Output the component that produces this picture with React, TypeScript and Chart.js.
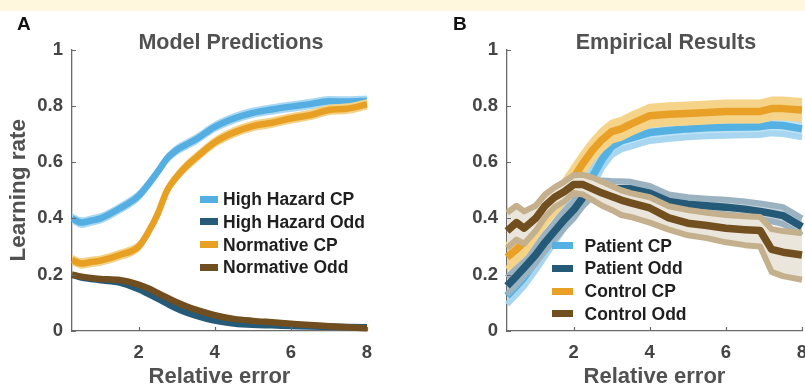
import React, { useEffect, useRef } from 'react';
import { Chart, registerables } from 'chart.js';

Chart.register(...registerables);

const FONT = '"Liberation Sans", Arial, Helvetica, sans-serif';
const AXIS = '#6a6a6a';
const TICK_TXT = '#444444';
const TITLE_TXT = '#515151';

// ---------- shared axis data ----------
const X_MIN = 0.25;
const X_MAX = 8;
const xTickValues = [2, 4, 6, 8];
const yTickStep = 0.2;

// ---------- Panel A: Model Predictions ----------
const xA = [0.25, 0.5, 0.75, 1, 1.5, 2, 2.25, 2.5, 2.75, 3, 3.25, 3.5, 4, 4.5, 5, 5.5, 6, 6.5, 7, 7.5, 8];
const highHazardCP = [0.40, 0.385, 0.392, 0.40, 0.435, 0.48, 0.52, 0.565, 0.613, 0.643, 0.662, 0.68, 0.725, 0.755, 0.775, 0.787, 0.797, 0.806, 0.816, 0.815, 0.818];
const highHazardOdd = [0.20, 0.19, 0.185, 0.18, 0.172, 0.148, 0.132, 0.115, 0.097, 0.08, 0.066, 0.055, 0.037, 0.027, 0.022, 0.02, 0.018, 0.016, 0.015, 0.014, 0.013];
const normativeCP = [0.252, 0.24, 0.245, 0.25, 0.27, 0.30, 0.35, 0.415, 0.50, 0.548, 0.585, 0.615, 0.67, 0.705, 0.728, 0.74, 0.755, 0.767, 0.785, 0.79, 0.805];
const normativeOdd = [0.20, 0.193, 0.188, 0.185, 0.181, 0.165, 0.152, 0.135, 0.118, 0.102, 0.088, 0.076, 0.056, 0.043, 0.036, 0.031, 0.026, 0.021, 0.017, 0.013, 0.01];
const cpErrA = 0.016;
const oddErrA = 0.006;

// ---------- Panel B: Empirical Results ----------
const xB = [0.25, 0.5, 0.7, 1.0, 1.25, 1.5, 1.75, 2.0, 2.25, 2.5, 2.75, 3.0, 3.25, 3.5, 4.0, 4.5, 5.0, 5.5, 6.0, 6.5, 6.9, 7.2, 7.5, 8.0];
const patientCP = [0.125, 0.16, 0.19, 0.25, 0.30, 0.35, 0.40, 0.45, 0.50, 0.55, 0.61, 0.655, 0.675, 0.685, 0.705, 0.712, 0.718, 0.722, 0.724, 0.725, 0.726, 0.732, 0.73, 0.718];
const patientCPHi = [0.16, 0.195, 0.225, 0.285, 0.335, 0.385, 0.435, 0.485, 0.535, 0.585, 0.64, 0.685, 0.705, 0.715, 0.735, 0.742, 0.748, 0.752, 0.754, 0.755, 0.756, 0.762, 0.76, 0.75];
const patientCPLo = [0.095, 0.13, 0.16, 0.215, 0.265, 0.315, 0.365, 0.415, 0.465, 0.515, 0.58, 0.625, 0.645, 0.655, 0.675, 0.682, 0.688, 0.692, 0.694, 0.695, 0.696, 0.702, 0.70, 0.688];
const patientOdd = [0.16, 0.195, 0.225, 0.27, 0.315, 0.355, 0.395, 0.43, 0.475, 0.505, 0.51, 0.505, 0.505, 0.505, 0.49, 0.46, 0.45, 0.445, 0.44, 0.433, 0.425, 0.418, 0.41, 0.37];
const patientOddHi = [0.19, 0.225, 0.255, 0.30, 0.345, 0.385, 0.425, 0.46, 0.505, 0.532, 0.535, 0.533, 0.532, 0.53, 0.515, 0.485, 0.475, 0.47, 0.466, 0.46, 0.453, 0.447, 0.44, 0.40];
const patientOddLo = [0.13, 0.165, 0.195, 0.24, 0.285, 0.325, 0.365, 0.40, 0.445, 0.478, 0.485, 0.478, 0.478, 0.48, 0.465, 0.435, 0.425, 0.42, 0.414, 0.406, 0.397, 0.39, 0.38, 0.34];
const controlCP = [0.262, 0.29, 0.315, 0.37, 0.415, 0.455, 0.495, 0.545, 0.597, 0.643, 0.68, 0.708, 0.718, 0.735, 0.765, 0.77, 0.773, 0.776, 0.78, 0.78, 0.78, 0.79, 0.79, 0.785];
const controlCPHi = [0.305, 0.33, 0.355, 0.405, 0.45, 0.49, 0.53, 0.58, 0.63, 0.675, 0.712, 0.74, 0.75, 0.767, 0.797, 0.802, 0.805, 0.808, 0.812, 0.812, 0.812, 0.822, 0.822, 0.817];
const controlCPLo = [0.22, 0.25, 0.275, 0.335, 0.38, 0.42, 0.46, 0.51, 0.565, 0.611, 0.648, 0.676, 0.686, 0.703, 0.733, 0.738, 0.741, 0.744, 0.748, 0.748, 0.748, 0.758, 0.758, 0.753];
const controlOdd = [0.355, 0.385, 0.365, 0.40, 0.445, 0.475, 0.495, 0.52, 0.52, 0.505, 0.49, 0.478, 0.465, 0.455, 0.437, 0.402, 0.383, 0.375, 0.365, 0.36, 0.357, 0.29, 0.28, 0.27];
const controlOddHi = [0.42, 0.445, 0.425, 0.445, 0.485, 0.51, 0.53, 0.553, 0.555, 0.545, 0.53, 0.515, 0.50, 0.49, 0.475, 0.443, 0.43, 0.42, 0.412, 0.408, 0.405, 0.362, 0.355, 0.347];
const controlOddLo = [0.295, 0.325, 0.31, 0.355, 0.405, 0.44, 0.46, 0.49, 0.485, 0.465, 0.445, 0.43, 0.412, 0.405, 0.385, 0.36, 0.34, 0.33, 0.315, 0.305, 0.30, 0.21, 0.195, 0.182];

type Series = {
  label: string;
  mean: number[];
  lo: number[];
  hi: number[];
  line: string;
  edge: string;
  fill: string;
};

const band = (arr: number[], d: number) => arr.map((v) => v + d);

const seriesA: Series[] = [
  { label: 'High Hazard CP', mean: highHazardCP, lo: band(highHazardCP, -cpErrA), hi: band(highHazardCP, cpErrA), line: '#55AEE1', edge: '#A9D8F3', fill: '#A9D8F3' },
  { label: 'High Hazard Odd', mean: highHazardOdd, lo: band(highHazardOdd, -oddErrA), hi: band(highHazardOdd, oddErrA), line: '#255B79', edge: '#8FAABB', fill: '#8FAABB' },
  { label: 'Normative CP', mean: normativeCP, lo: band(normativeCP, -cpErrA), hi: band(normativeCP, cpErrA), line: '#E8A024', edge: '#F4D287', fill: '#F4D287' },
  { label: 'Normative Odd', mean: normativeOdd, lo: band(normativeOdd, -oddErrA), hi: band(normativeOdd, oddErrA), line: '#714E1F', edge: '#C8B48F', fill: '#C8B48F' },
];

const seriesB: Series[] = [
  { label: 'Patient CP', mean: patientCP, lo: patientCPLo, hi: patientCPHi, line: '#56B1E3', edge: '#A8D6F1', fill: '#BFE2F5' },
  { label: 'Patient Odd', mean: patientOdd, lo: patientOddLo, hi: patientOddHi, line: '#245A78', edge: '#9BB3C1', fill: '#C8D5DD' },
  { label: 'Control CP', mean: controlCP, lo: controlCPLo, hi: controlCPHi, line: '#E8A027', edge: '#F5D48A', fill: '#F5D48A' },
  { label: 'Control Odd', mean: controlOdd, lo: controlOddLo, hi: controlOddHi, line: '#724F1F', edge: '#C4B08C', fill: '#EBE6DB' },
];

// ---------- layout constants ----------
const CANVAS_H = 400;
const PLOT_TOP = 49.5;
const X_AXIS_H = 69;

function buildDatasets(xs: number[], series: Series[], meanW: number, edgeW: number, smooth: boolean) {
  const pts = (arr: number[]) => xs.map((x, i) => ({ x, y: arr[i] }));
  const common = (extra: any) => ({
    pointRadius: 0,
    pointHoverRadius: 0,
    borderJoinStyle: 'round',
    borderCapStyle: 'butt',
    tension: smooth ? 0.4 : 0,
    cubicInterpolationMode: smooth ? 'monotone' : 'default',
    clip: 12,
    ...extra,
  });
  const ds: any[] = [];
  series.forEach((s) => {
    ds.push(common({ data: pts(s.hi), borderColor: s.edge, backgroundColor: s.fill, borderWidth: edgeW, fill: '+1' }));
    ds.push(common({ data: pts(s.lo), borderColor: s.edge, borderWidth: edgeW, fill: false }));
    ds.push(common({ data: pts(s.mean), borderColor: s.line, borderWidth: meanW, fill: false }));
  });
  const n = ds.length;
  ds.forEach((d, i) => {
    d.order = n - i;
  });
  return ds;
}

const innerTicks = {
  id: 'innerTicks',
  afterDraw(chart: any) {
    const { ctx, chartArea, scales } = chart;
    ctx.save();
    ctx.strokeStyle = AXIS;
    ctx.lineWidth = 1.2;
    ctx.beginPath();
    scales.x.ticks.forEach((t: any) => {
      const px = Math.round(scales.x.getPixelForValue(t.value)) + 0.5;
      ctx.moveTo(px, chartArea.bottom);
      ctx.lineTo(px, chartArea.bottom - 4);
    });
    scales.y.ticks.forEach((t: any) => {
      const py = Math.round(scales.y.getPixelForValue(t.value)) + 0.5;
      ctx.moveTo(chartArea.left, py);
      ctx.lineTo(chartArea.left + 4, py);
    });
    ctx.stroke();
    ctx.restore();
  },
};

function makeOptions(yAxisW: number, rightPad: number, yTitle: string | null) {
  return {
    responsive: false,
    animation: false,
    events: [],
    layout: { padding: { left: 0, right: rightPad, top: PLOT_TOP, bottom: 0 }, autoPadding: false },
    plugins: { legend: { display: false }, tooltip: { enabled: false }, title: { display: false } },
    scales: {
      x: {
        type: 'linear',
        min: X_MIN,
        max: X_MAX,
        afterBuildTicks: (s: any) => {
          s.ticks = xTickValues.map((v) => ({ value: v }));
        },
        afterFit: (s: any) => {
          s.height = X_AXIS_H;
          s.paddingLeft = 0;
          s.paddingRight = 0;
        },
        grid: { display: false, drawOnChartArea: false, drawTicks: false },
        border: { display: true, color: AXIS, width: 1.3 },
        ticks: {
          autoSkip: false,
          maxRotation: 0,
          padding: 11,
          color: TICK_TXT,
          font: { family: FONT, size: 18.5, weight: 'bold' },
          callback: (v: any) => String(v),
        },
        title: {
          display: true,
          text: 'Relative error',
          color: TITLE_TXT,
          font: { family: FONT, size: 22, weight: 'bold' },
          padding: { top: 0, bottom: 9.5 },
        },
      },
      y: {
        type: 'linear',
        min: 0,
        max: 1,
        afterFit: (s: any) => {
          s.width = yAxisW;
          s.paddingTop = 0;
          s.paddingBottom = 0;
        },
        grid: { display: false, drawOnChartArea: false, drawTicks: false },
        border: { display: true, color: AXIS, width: 1.3 },
        ticks: {
          stepSize: yTickStep,
          padding: 9,
          color: TICK_TXT,
          font: { family: FONT, size: 18.5, weight: 'bold' },
          callback: (v: any) => String(Math.round(Number(v) * 10) / 10),
        },
        title: {
          display: !!yTitle,
          text: yTitle || '',
          color: TITLE_TXT,
          font: { family: FONT, size: 22.5, weight: 'bold' },
          padding: { top: 5, bottom: 0 },
        },
      },
    },
  };
}

type PanelProps = {
  left: number;
  width: number;
  yAxisW: number;
  rightPad: number;
  xs: number[];
  series: Series[];
  yTitle: string | null;
  smooth: boolean;
  meanW: number;
  edgeW: number;
};

function Panel(p: PanelProps) {
  const ref = useRef<HTMLCanvasElement>(null);
  useEffect(() => {
    const chart = new Chart(ref.current as HTMLCanvasElement, {
      type: 'line',
      data: { datasets: buildDatasets(p.xs, p.series, p.meanW, p.edgeW, p.smooth) },
      options: makeOptions(p.yAxisW, p.rightPad, p.yTitle) as any,
      plugins: [innerTicks],
    });
    return () => chart.destroy();
  }, []);
  return (
    <canvas
      ref={ref}
      width={p.width}
      height={CANVAS_H}
      style={{ position: 'absolute', left: p.left, top: 0, width: p.width, height: CANVAS_H, display: 'block' }}
    />
  );
}

function Legend({ series, left, top, step, swW, swH, gap }: { series: Series[]; left: number; top: number; step: number; swW: number; swH: number; gap: number }) {
  return (
    <>
      {series.map((s, i) => (
        <div
          key={s.label}
          style={{
            position: 'absolute',
            left,
            top: top + i * step - 10,
            height: 20,
            display: 'flex',
            alignItems: 'center',
            whiteSpace: 'nowrap',
          }}
        >
          <span style={{ display: 'inline-block', width: swW, height: swH, background: s.line, marginRight: gap }} />
          <span style={{ font: `bold 17.5px ${FONT}`, lineHeight: '20px', color: '#1f1f1f' }}>{s.label}</span>
        </div>
      ))}
    </>
  );
}

const textStyle = (size: number, color: string): React.CSSProperties => ({
  position: 'absolute',
  font: `bold ${size}px ${FONT}`,
  lineHeight: `${Math.round(size * 1.15)}px`,
  color,
  whiteSpace: 'nowrap',
});

export default function App() {
  return (
    <div
      style={{
        position: 'absolute',
        left: 0,
        top: 0,
        width: 805,
        height: 387,
        overflow: 'hidden',
        background: '#ffffff',
      }}
    >
      <div style={{ position: 'absolute', left: 0, top: 0, width: 805, height: 11, background: '#FFF6DE' }} />
      <Panel left={0} width={400} yAxisW={72} rightPad={33} xs={xA} series={seriesA} yTitle="Learning rate" smooth={true} meanW={6.5} edgeW={1.5} />
      <Panel left={400} width={405} yAxisW={107} rightPad={3} xs={xB} series={seriesB} yTitle={null} smooth={false} meanW={7.5} edgeW={6} />
      <div style={{ ...textStyle(19, '#111'), left: 17, top: 12.5 }}>A</div>
      <div style={{ ...textStyle(19, '#111'), left: 453, top: 12.5 }}>B</div>
      <div style={{ ...textStyle(21.5, TITLE_TXT), left: 81, width: 300, textAlign: 'center', top: 30 }}>Model Predictions</div>
      <div style={{ ...textStyle(21.5, TITLE_TXT), left: 516, width: 300, textAlign: 'center', top: 30 }}>Empirical Results</div>
      <Legend series={seriesA} left={200} top={199} step={22.8} swW={18} swH={7} gap={5} />
      <Legend series={seriesB} left={552} top={245.5} step={22.8} swW={20.5} swH={7} gap={12} />
    </div>
  );
}
